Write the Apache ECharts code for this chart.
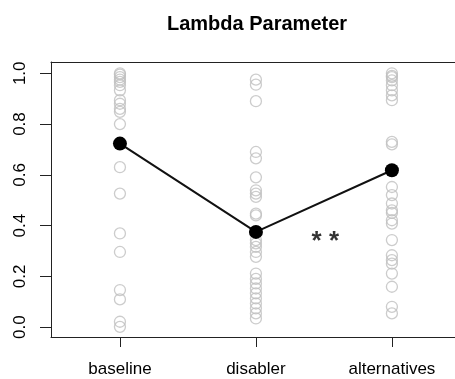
<!DOCTYPE html>
<html>
<head>
<meta charset="utf-8">
<script src="https://cdn.jsdelivr.net/npm/echarts@6/dist/echarts.min.js"></script>
<style>
html,body{margin:0;padding:0;background:#fff;}
#c{width:455px;height:379px;}
</style>
</head>
<body>
<div id="c"></div>
<script>
var categories = ['baseline', 'disabler', 'alternatives'];
var baselineVals = [1.0, 0.995, 0.985, 0.975, 0.966, 0.953, 0.933, 0.894, 0.88, 0.86, 0.848, 0.80, 0.63, 0.526, 0.369, 0.296, 0.146, 0.109, 0.021, 0.001];
var disablerVals = [0.975, 0.955, 0.89, 0.69, 0.665, 0.59, 0.539, 0.526, 0.513, 0.447, 0.44, 0.343, 0.33, 0.316, 0.296, 0.277, 0.211, 0.19, 0.172, 0.152, 0.133, 0.113, 0.093, 0.074, 0.054, 0.034];
var alternativesVals = [1.0, 0.99, 0.985, 0.972, 0.953, 0.933, 0.913, 0.894, 0.73, 0.72, 0.552, 0.52, 0.487, 0.46, 0.45, 0.421, 0.408, 0.343, 0.283, 0.264, 0.25, 0.211, 0.159, 0.08, 0.054];
var meanVals = [0.723, 0.375, 0.618];
var yTicks = [0, 0.2, 0.4, 0.6, 0.8, 1.0];
var annotation = {x: 2.51, y: 0.335, text: '* *'};

var groups = [baselineVals, disablerVals, alternativesVals];
var pts = [];
groups.forEach(function (g, i) {
  g.forEach(function (v) { pts.push([i + 1, v]); });
});
var meanPts = meanVals.map(function (v, i) { return [i + 1, v]; });

var chart = echarts.init(document.getElementById('c'), null, {renderer: 'canvas'});
var FONT = '"Liberation Sans", Arial, sans-serif';
chart.setOption({
  animation: false,
  backgroundColor: '#fff',
  title: {
    text: 'Lambda Parameter',
    left: 162,
    top: 9,
    textStyle: {fontFamily: FONT, fontSize: 20, fontWeight: 'bold', color: '#000'}
  },
  grid: {left: 51, top: 62, right: 0, bottom: 42, show: false},
  xAxis: [{
    type: 'value', min: 0.493, max: 3.464,
    splitLine: {show: false},
    axisLine: {show: true, onZero: false, lineStyle: {color: '#222', width: 1}},
    axisTick: {show: true, length: 10, customValues: [1, 2, 3], lineStyle: {color: '#222'}},
    axisLabel: {
      customValues: [1, 2, 3], margin: 24,
      fontFamily: FONT, fontSize: 17, color: '#000',
      formatter: function (v) { return categories[Math.round(v) - 1] || ''; }
    }
  }, {
    type: 'value', position: 'top', min: 0.493, max: 3.464,
    splitLine: {show: false},
    axisLine: {show: true, onZero: false, lineStyle: {color: '#222', width: 1}},
    axisTick: {show: false},
    axisLabel: {show: false}
  }],
  yAxis: {
    type: 'value', min: -0.039, max: 1.0445,
    splitLine: {show: false},
    axisLine: {show: true, onZero: false, lineStyle: {color: '#222', width: 1}},
    axisTick: {show: true, length: 11, customValues: yTicks, lineStyle: {color: '#222'}},
    axisLabel: {
      customValues: yTicks, margin: 22, rotate: 90,
      fontFamily: FONT, fontSize: 17, color: '#000',
      formatter: function (v) { return v.toFixed(1); }
    }
  },
  series: [
    {
      type: 'scatter', data: pts, symbol: 'circle', symbolSize: 11,
      itemStyle: {color: 'rgba(255,255,255,0)', borderColor: '#bfbfbf', borderWidth: 1.3},
      z: 2
    },
    {
      type: 'line', data: meanPts, symbol: 'circle', symbolSize: 14,
      lineStyle: {color: '#111', width: 2},
      itemStyle: {color: '#000'},
      z: 3
    },
    {
      type: 'scatter', data: [[annotation.x, annotation.y]], symbolSize: 0,
      itemStyle: {color: '#000'},
      label: {show: true, position: 'inside', formatter: annotation.text,
        fontFamily: FONT, fontSize: 26, fontWeight: 'bold', color: '#000'},
      z: 4
    }
  ]
});
</script>
</body>
</html>
